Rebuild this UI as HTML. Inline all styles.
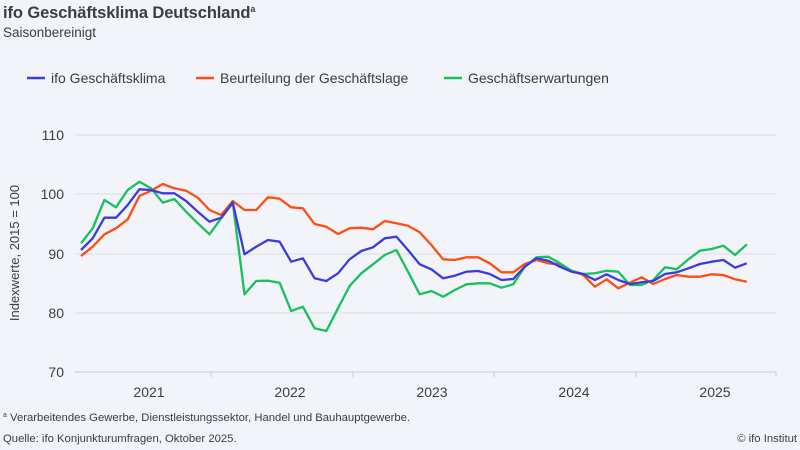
<!DOCTYPE html>
<html><head><meta charset="utf-8"><style>
body{margin:0;width:800px;height:450px;background:#f3f4f9;font-family:"Liberation Sans",sans-serif;color:#3a3d45;overflow:hidden}
svg{position:absolute;left:0;top:0}
</style></head><body>
<svg width="800" height="450" xmlns="http://www.w3.org/2000/svg" font-family="Liberation Sans, sans-serif">
<text x="3" y="18" font-size="16.5" font-weight="bold" fill="#3a3d45" letter-spacing="-0.1">ifo Geschäftsklima Deutschland<tspan font-size="9" dy="-6">a</tspan></text>
<text x="3" y="37" font-size="13.5" fill="#3a3d45">Saisonbereinigt</text>
<line x1="27" y1="78" x2="45" y2="78" stroke="#3b3be0" stroke-width="2.5"/>
<text x="51" y="83" font-size="14" fill="#3a3d45">ifo Geschäftsklima</text>
<line x1="196" y1="78" x2="214" y2="78" stroke="#ff4d12" stroke-width="2.5"/>
<text x="220" y="83" font-size="14" fill="#3a3d45">Beurteilung der Geschäftslage</text>
<line x1="444" y1="78" x2="462" y2="78" stroke="#17c15e" stroke-width="2.5"/>
<text x="468" y="83" font-size="14" fill="#3a3d45">Geschäftserwartungen</text>
<g stroke="#dcdee5" stroke-width="1">
<line x1="75" y1="135" x2="776" y2="135"/><line x1="75" y1="194" x2="776" y2="194"/>
<line x1="75" y1="254" x2="776" y2="254"/><line x1="75" y1="313" x2="776" y2="313"/>
</g>
<line x1="75" y1="372" x2="776" y2="372" stroke="#c8cad2"/>
<g stroke="#c8cad2"><line x1="211" y1="372" x2="211" y2="377"/><line x1="353" y1="372" x2="353" y2="377"/><line x1="494" y1="372" x2="494" y2="377"/><line x1="636" y1="372" x2="636" y2="377"/><line x1="776" y1="372" x2="776" y2="377"/></g>
<g font-size="14" fill="#3a3d45" text-anchor="end">
<text x="64" y="140">110</text><text x="64" y="199">100</text><text x="64" y="259">90</text><text x="64" y="318">80</text><text x="64" y="377">70</text></g>
<g font-size="14" fill="#3a3d45" text-anchor="middle">
<text x="149" y="397">2021</text><text x="290" y="397">2022</text><text x="432" y="397">2023</text><text x="574" y="397">2024</text><text x="715" y="397">2025</text></g>
<text transform="translate(19,253) rotate(-90)" font-size="13" fill="#3a3d45" text-anchor="middle">Indexwerte, 2015 = 100</text>
<polyline id="o" fill="none" stroke="#ff4d12" stroke-width="2.3" stroke-linejoin="round"/>
<polyline id="g" fill="none" stroke="#17c15e" stroke-width="2.3" stroke-linejoin="round"/>
<polyline id="b" fill="none" stroke="#3b3be0" stroke-width="2.3" stroke-linejoin="round"/>
<text x="3" y="421" font-size="11.3" fill="#3a3d45"><tspan font-size="7" dy="-4">a</tspan><tspan dy="4"> Verarbeitendes Gewerbe, Dienstleistungssektor, Handel und Bauhauptgewerbe.</tspan></text>
<text x="3" y="442" font-size="11.3" fill="#3a3d45">Quelle: ifo Konjunkturumfragen, Oktober 2025.</text>
<text x="797" y="442" font-size="11.3" fill="#3a3d45" text-anchor="end">© ifo Institut</text>
</svg>
<script>
var B=[250,238.3,217.7,217.7,205,189.3,190,193.3,193.3,201,211.7,221.7,217.7,202.7,254.3,246.7,240,241.7,261.7,258.3,278.3,281,273.3,259.3,251,247.3,238.3,236.7,250,264.3,269.3,278.3,275.7,271.7,271,274,280,279,266.7,258.3,260.7,266.7,271.7,274,280,274.3,280,284,282.3,281,274,272.3,268.3,264,261.7,260,267.7,263.3];
var O=[256,246.7,234.3,228.3,219.3,196,190.7,184,188.3,190.7,197.7,210,215,201,210,210,197.3,198.7,207.3,208.3,224,226.7,234,228.3,227.7,229.3,221,223.3,225.7,232.3,245,259.3,260,257.3,257.3,263.3,272.3,272.3,264,260,263.3,264.3,270.7,275,286.7,279.3,288.3,282.7,277.3,284,279,275,276.7,276.7,274.3,275,279.3,281.7];
var G=[243.3,228.3,200,207.3,190,181.7,188.3,202.7,199,211.7,223.3,234.3,218.3,202.7,294.3,281,280.7,282.7,311,306.7,328.3,331,308.3,286,273.3,264.3,255,250,271.7,294.3,291,296.7,290,284.3,283.3,283.3,287.7,284.3,266.7,257.3,256.7,263.3,270.7,274,273.3,270.7,271.7,285,285,280,267.3,269.3,259.3,250.7,249,245.7,255,244.3];
function p(a){return a.map(function(y,i){return (81+11.68*i).toFixed(1)+","+y}).join(" ")}
document.getElementById("b").setAttribute("points",p(B));
document.getElementById("o").setAttribute("points",p(O));
document.getElementById("g").setAttribute("points",p(G));
</script>
</body></html>
